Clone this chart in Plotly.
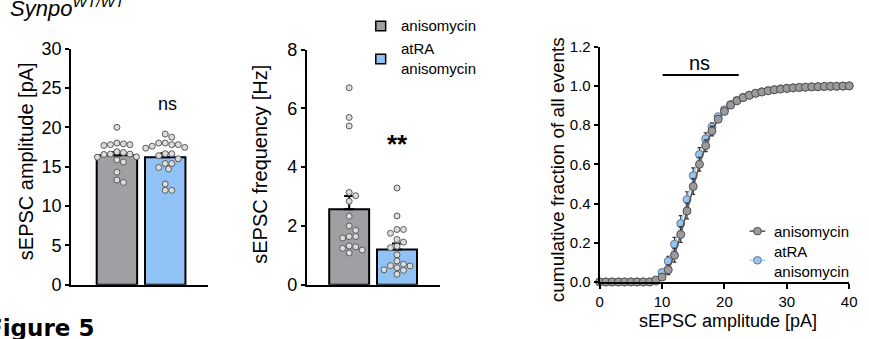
import plotly.graph_objects as go

W, H = 869, 339
FONT = "Liberation Sans, Arial, sans-serif"

# ---------------- data ----------------
groups = ["anisomycin", "atRA anisomycin"]
amp_aniso = [20.0, 18.0, 17.8, 17.7, 17.8, 17.9, 16.8, 16.6, 16.55, 16.6, 16.9,
             16.2, 15.85, 16.25, 15.6, 14.3, 13.0, 13.3]
amp_atra = [19.15, 18.75, 18.0, 17.8, 17.6, 17.8, 18.0, 17.35, 17.45, 16.65,
            16.65, 16.4, 16.0, 15.4, 15.4, 14.7, 14.9, 12.8, 12.0, 12.0]
amp_mean = [16.45, 16.2]
amp_sem = [0.4, 0.5]

freq_aniso = [6.7, 5.69, 5.4, 3.14, 3.03, 2.84, 2.33, 2.0, 1.85, 1.64, 1.59,
              1.64, 1.24, 1.08, 1.18, 1.32, 1.29]
freq_atra = [3.29, 2.34, 1.88, 1.75, 1.88, 1.45, 1.54, 1.31, 1.26, 1.02, 0.81,
             0.70, 0.51, 0.36, 0.49, 0.58, 0.64, 0.65]
freq_mean = [2.57, 1.2]
freq_sem = [0.45, 0.2]

cum_x = list(range(0, 41))
cum_aniso = [0, 0, 0, 0, 0, 0, 0, 0, 0, 0.01, 0.025, 0.062, 0.136, 0.242, 0.362,
             0.487, 0.60, 0.695, 0.77, 0.83, 0.87, 0.902, 0.924, 0.94, 0.952,
             0.962, 0.969, 0.975, 0.98, 0.984, 0.987, 0.99, 0.992, 0.993, 0.995,
             0.996, 0.997, 0.998, 0.998, 0.999, 1.0]
cum_aniso_err = [0, 0, 0, 0, 0, 0, 0, 0, 0, 0.005, 0.01, 0.025, 0.035, 0.04, 0.04,
                 0.04, 0.035, 0.03, 0.025, 0.015, 0.01, 0.008, 0.006, 0.005, 0.004,
                 0.004, 0.003, 0.003, 0.003, 0.002, 0.002, 0.002, 0.002, 0.001,
                 0.001, 0.001, 0.001, 0.001, 0.001, 0.001, 0]
cum_atra = [0, 0, 0, 0, 0, 0, 0, 0, 0, 0.004, 0.048, 0.106, 0.192, 0.298, 0.42,
            0.542, 0.65, 0.73, 0.79, 0.843, 0.878, 0.905, 0.926, 0.942, 0.953,
            0.963, 0.97, 0.976, 0.981, 0.985, 0.988, 0.99, 0.992, 0.994, 0.995,
            0.996, 0.997, 0.998, 0.998, 0.999, 1.0]
cum_atra_err = [0, 0, 0, 0, 0, 0, 0, 0, 0, 0.004, 0.01, 0.025, 0.035, 0.04, 0.04,
                0.04, 0.035, 0.03, 0.022, 0.015, 0.01, 0.008, 0.006, 0.005, 0.004,
                0.004, 0.003, 0.003, 0.003, 0.002, 0.002, 0.002, 0.002, 0.001,
                0.001, 0.001, 0.001, 0.001, 0.001, 0.001, 0]

# ---------------- styles ----------------
GRAY = "#a09fa3"
BLUE = "#90c2f5"
DOT_FILL = "#dcdcdc"
DOT_LINE = "#5a5a5a"


def px(x):
    return x / W


def py(y):
    return 1 - y / H


def swarm(values, center, ppu_y, ppu_x, d=6.6):
    """simple deterministic beeswarm; returns x positions in data units"""
    order = sorted(range(len(values)), key=lambda i: -values[i])
    placed = []
    xs = [center] * len(values)
    cands = [0.0]
    for k in range(1, 12):
        cands += [k * d / 2, -k * d / 2]
    for i in order:
        yp = values[i] * ppu_y
        for c in cands:
            ok = True
            for (xo, yo) in placed:
                if (xo - c) ** 2 + (yo - yp) ** 2 < (d * 0.98) ** 2:
                    ok = False
                    break
            if ok:
                placed.append((c, yp))
                xs[i] = center + c / ppu_x
                break
    return xs


fig = go.Figure()

# ---------- panel 1 : amplitude ----------
for i, (vals, col) in enumerate([(amp_aniso, GRAY), (amp_atra, BLUE)]):
    fig.add_trace(go.Bar(x=[i], y=[amp_mean[i]], width=0.837,
                         marker=dict(color=col, line=dict(color="black", width=2)),
                         error_y=dict(type="data", symmetric=False, array=[amp_sem[i]],
                                      arrayminus=[0], color="black", thickness=2, width=5),
                         xaxis="x", yaxis="y", showlegend=False))
for i, vals in enumerate([amp_aniso, amp_atra]):
    fig.add_trace(go.Scatter(x=swarm(vals, i, 251 / 30, 49), y=vals, mode="markers",
                             marker=dict(size=6, color=DOT_FILL, line=dict(color=DOT_LINE, width=1)),
                             xaxis="x", yaxis="y", showlegend=False, cliponaxis=False))

# ---------- panel 2 : frequency ----------
for i, (vals, col) in enumerate([(freq_aniso, GRAY), (freq_atra, BLUE)]):
    fig.add_trace(go.Bar(x=[i], y=[freq_mean[i]], width=0.835,
                         marker=dict(color=col, line=dict(color="black", width=2)),
                         error_y=dict(type="data", symmetric=False, array=[freq_sem[i]],
                                      arrayminus=[0], color="black", thickness=2, width=5),
                         xaxis="x2", yaxis="y2", showlegend=False))
for i, vals in enumerate([freq_aniso, freq_atra]):
    fig.add_trace(go.Scatter(x=swarm(vals, i, 250 / 8, 48.5), y=vals, mode="markers",
                             marker=dict(size=6, color=DOT_FILL, line=dict(color=DOT_LINE, width=1)),
                             xaxis="x2", yaxis="y2", showlegend=False, cliponaxis=False))

# ---------- panel 3 : cumulative ----------
fig.add_trace(go.Scatter(x=cum_x, y=cum_atra, mode="lines+markers",
                         line=dict(color="#a9cdf0", width=1.5),
                         marker=dict(size=8, color="#93c5f3", line=dict(color="#6c7680", width=1)),
                         error_y=dict(type="data", array=cum_atra_err, color="#333333",
                                      thickness=1.2, width=2),
                         xaxis="x3", yaxis="y3", showlegend=False, cliponaxis=False))
fig.add_trace(go.Scatter(x=cum_x, y=cum_aniso, mode="lines+markers",
                         line=dict(color="#555555", width=1.5),
                         marker=dict(size=8, color="#9b9b9b", line=dict(color="#505050", width=1)),
                         error_y=dict(type="data", array=cum_aniso_err, color="#333333",
                                      thickness=1.2, width=2),
                         xaxis="x3", yaxis="y3", showlegend=False, cliponaxis=False))

axis_common = dict(showline=True, linecolor="black", linewidth=2, showgrid=False,
                   zeroline=False, mirror=False)
tickfont_big = dict(family=FONT, size=18, color="black")
tickfont_small = dict(family=FONT, size=15, color="black")

fig.update_layout(
    width=W, height=H, margin=dict(l=0, r=0, t=0, b=0),
    paper_bgcolor="white", plot_bgcolor="white", barmode="overlay",
    font=dict(family=FONT, color="black"),
    xaxis=dict(domain=[px(68), px(207)], range=[-0.949, 1.888], showticklabels=False,
               ticks="", anchor="y", **axis_common),
    yaxis=dict(domain=[py(292), py(41)], range=[0, 30], tickvals=[0, 5, 10, 15, 20, 25, 30],
               ticks="outside", ticklen=4, tickwidth=2, tickcolor="black",
               tickfont=tickfont_big, anchor="x", **axis_common),
    xaxis2=dict(domain=[px(307), px(442)], range=[-0.887, 1.897], showticklabels=False,
                ticks="", anchor="y2", **axis_common),
    yaxis2=dict(domain=[py(292), py(42)], range=[0, 8], tickvals=[0, 2, 4, 6, 8],
                ticks="outside", ticklen=4, tickwidth=2, tickcolor="black",
                tickfont=tickfont_big, anchor="x2", **axis_common),
    xaxis3=dict(domain=[px(604), px(857)], range=[0, 40], tickvals=[0, 10, 20, 30, 40],
                ticks="outside", ticklen=5, tickwidth=2, tickcolor="black",
                tickfont=tickfont_small, anchor="y3", **axis_common),
    yaxis3=dict(domain=[py(289), py(39)], range=[0, 1.2],
                tickvals=[0, 0.2, 0.4, 0.6, 0.8, 1.0, 1.2], tickformat=".1f",
                ticks="outside", ticklen=4, tickwidth=2, tickcolor="black",
                tickfont=tickfont_small, anchor="x3", **axis_common),
)

ann = []
# axis titles
ann.append(dict(text="sEPSC amplitude [pA]", x=px(22), y=py(161), textangle=-90,
                font=dict(size=20)))
ann.append(dict(text="sEPSC frequency [Hz]", x=px(260), y=py(164), textangle=-90,
                font=dict(size=20)))
ann.append(dict(text="cumulative fraction of all events", x=px(562), y=py(170), textangle=-90,
                font=dict(size=19)))
ann.append(dict(text="sEPSC amplitude [pA]", x=px(734), y=py(330), font=dict(size=18)))
# significance
ann.append(dict(text="ns", x=px(166), y=py(100), font=dict(size=18)))
ann.append(dict(text="<b>**</b>", x=px(399), y=py(142), font=dict(size=26)))
ann.append(dict(text="ns", x=px(705), y=py(56), font=dict(size=20)))
# header / footer
ann.append(dict(text="<i>Synpo<sup>WT/WT</sup></i>", x=px(4), y=py(-3), xanchor="left",
                font=dict(size=22)))
ann.append(dict(text="<b>Figure 5</b>", x=px(93), y=py(338), xanchor="right",
                font=dict(size=23, family="DejaVu Sans, sans-serif")))
# middle legend
ann.append(dict(text="anisomycin", x=px(401), y=py(17), xanchor="left", font=dict(size=15)))
ann.append(dict(text="atRA<br>anisomycin", x=px(401), y=py(52), xanchor="left",
                align="left", font=dict(size=15)))
# right legend
ann.append(dict(text="anisomycin", x=px(779), y=py(235), xanchor="left", font=dict(size=15)))
ann.append(dict(text="atRA<br>anisomycin", x=px(779), y=py(267), xanchor="left",
                align="left", font=dict(size=15)))

for a in ann:
    a.setdefault("xref", "paper")
    a.setdefault("yref", "paper")
    a.setdefault("showarrow", False)
    a.setdefault("xanchor", "center")
    a.setdefault("yanchor", "middle")
    f = dict(family=FONT, color="black")
    f.update(a["font"])
    a["font"] = f
fig.update_layout(annotations=ann)

shapes = [
    # middle legend squares
    dict(type="rect", x0=px(377), x1=px(387), y0=py(12), y1=py(22),
         fillcolor=GRAY, line=dict(color="black", width=1.5)),
    dict(type="rect", x0=px(377), x1=px(387), y0=py(47), y1=py(57),
         fillcolor=BLUE, line=dict(color="black", width=1.5)),
    # right legend markers
    dict(type="line", x0=px(756), x1=px(772), y0=py(235), y1=py(235),
         line=dict(color="#555555", width=1.5)),
    dict(type="circle", x0=px(760), x1=px(768), y0=py(231), y1=py(239),
         fillcolor="#9b9b9b", line=dict(color="#505050", width=1)),
    dict(type="line", x0=px(756), x1=px(772), y0=py(266), y1=py(266),
         line=dict(color="#a9cdf0", width=1.5)),
    dict(type="circle", x0=px(760), x1=px(768), y0=py(262), y1=py(270),
         fillcolor="#93c5f3", line=dict(color="#6c7680", width=1)),
    # ns line in right panel (data coordinates)
    dict(type="line", xref="x3", yref="y3", x0=10.1, x1=22.3, y0=1.056, y1=1.056,
         line=dict(color="black", width=2)),
]
for s in shapes:
    s.setdefault("xref", "paper")
    s.setdefault("yref", "paper")
fig.update_layout(shapes=shapes)

fig.write_html("out.html", config={"displayModeBar": False},
               post_script="document.body.style.margin='0px';")
